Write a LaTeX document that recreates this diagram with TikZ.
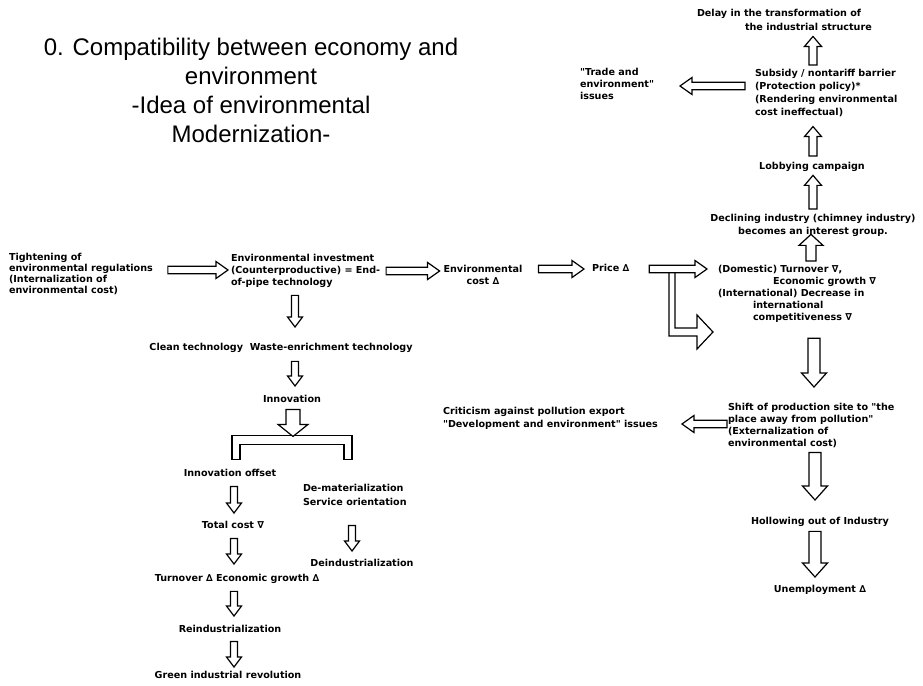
\documentclass[tikz,border=0pt]{standalone}
\usepackage{fontspec}
\setmainfont{DejaVu Sans}[Ligatures=TeXOff]
\newfontfamily\titlefont{Liberation Sans}
\usetikzlibrary{calc}

\tikzset{
  every node/.style={inner sep=0pt, outer sep=0pt},
  bodyfont/.style={font=\fontsize{9.6bp}{12bp}\selectfont\bfseries},
  txt/.style={bodyfont, align=left, anchor=north west},
  ctxt/.style={bodyfont, align=center, anchor=north},
  % hollow block arrow drawn along a "to" path: shaft half width, head half width, head length
  blockarrow/.style n args={3}{draw=black, fill=white, line width=1.2bp, line join=miter,
    to path={let \p1=(\tikztostart), \p2=(\tikztotarget),
      \n1={atan2(\y2-\y1,\x2-\x1)} in
      ($(\p1)+(\n1+90:#1)$) -- ($(\p2)+(\n1+180:#3)+(\n1+90:#1)$)
      -- ($(\p2)+(\n1+180:#3)+(\n1+90:#2)$) -- (\p2)
      -- ($(\p2)+(\n1+180:#3)+(\n1-90:#2)$) -- ($(\p2)+(\n1+180:#3)+(\n1-90:#1)$)
      -- ($(\p1)+(\n1-90:#1)$) -- cycle}},
  harr/.style={blockarrow={3.8bp}{8.5bp}{12bp}},
  sarr/.style={blockarrow={3.5bp}{7.5bp}{10bp}},
  uarr/.style={blockarrow={4bp}{8.5bp}{10bp}},
  warr/.style={blockarrow={5bp}{12bp}{11bp}},
  darr/.style={blockarrow={6bp}{12.5bp}{14bp}},
  farr/.style={blockarrow={7bp}{15bp}{12bp}},
  outline/.style={draw=black, fill=white, line width=1.2bp, line join=miter},
}

\begin{document}
\begin{tikzpicture}[x=1bp, y=-1bp]
\useasboundingbox (0,0) rectangle (923,686);
\fill[white] (0,0) rectangle (923,686);

% heading
\node[font=\titlefont\fontsize{24bp}{29bp}\selectfont, align=center, anchor=north]
  (title) at (251,38) {0. Compatibility between economy and\\environment\\-Idea of environmental\\Modernization-};

% main chain
\node[txt, font=\fontsize{9.6bp}{11bp}\selectfont\bfseries] (T) at (9,253)
  {Tightening of\\environmental regulations\\(Internalization of\\environmental cost)};
\node[txt] (EI) at (231,254)
  {Environmental investment\\(Counterproductive) = End-\\of-pipe technology};
\node[ctxt] (EC) at (483,265) {Environmental\\cost ∆};
\node[txt] (Price) at (592,264) {Price ∆};
\node[txt] (DT) at (718,265)
  {(Domestic) Turnover ∇,\\\hspace*{55bp}Economic growth ∇\\(International) Decrease in\\\hspace*{35bp}international\\\hspace*{35bp}competitiveness ∇};

% upper right branch
\node[ctxt, font=\fontsize{9.6bp}{13bp}\selectfont\bfseries] (DI) at (813,214)
  {Declining industry (chimney industry)\\becomes an interest group.};
\node[ctxt] (LC) at (812,162) {Lobbying campaign};
\node[txt, font=\fontsize{9.6bp}{13bp}\selectfont\bfseries] (SB) at (755,69)
  {Subsidy / nontariff barrier\\(Protection policy)*\\(Rendering environmental\\cost ineffectual)};
\node[txt, font=\fontsize{9.6bp}{14bp}\selectfont\bfseries] (DL) at (697,9)
  {Delay in the transformation of\\\hspace*{48bp}the industrial structure};
\node[txt] (Trade) at (580,68) {"Trade and\\environment"\\issues};

% lower right branch
\node[txt] (SH) at (728,403)
  {Shift of production site to "the\\place away from pollution"\\(Externalization of\\environmental cost)};
\node[txt, font=\fontsize{9.6bp}{13bp}\selectfont\bfseries] (CR) at (443,407)
  {Criticism against pollution export\\"Development and environment" issues};
\node[ctxt] (HO) at (820,517) {Hollowing out of Industry};
\node[ctxt] (UN) at (820,585) {Unemployment ∆};

% left branch
\node[ctxt] (CT) at (281,343) {Clean technology\ \ Waste-enrichment technology};
\node[ctxt] (IN) at (292,395) {Innovation};
\node[ctxt] (IO) at (230,469) {Innovation offset};
\node[txt, font=\fontsize{9.6bp}{14bp}\selectfont\bfseries] (DM) at (303,484)
  {De-materialization\\Service orientation};
\node[ctxt] (TC) at (233,521) {Total cost ∇};
\node[ctxt] (TO) at (237,574) {Turnover ∆ Economic growth ∆};
\node[ctxt] (DE) at (362,559) {Deindustrialization};
\node[ctxt] (RE) at (230,625) {Reindustrialization};
\node[ctxt] (GR) at (228,671) {Green industrial revolution};

% horizontal chain arrows
\draw[harr] ($(T.east |- 0,270)+(15,0)$) to ($(EI.west |- 0,270)+(-3,0)$);
\draw[harr] ($(EI.east |- 0,271)+(6,0)$) to ($(EC.west |- 0,271)+(-4,0)$);
\draw[harr] ($(EC.east |- 0,269)+(16,0)$) to ($(Price.west |- 0,269)+(-8,0)$);

% bent arrow from the price step down and round to the turnover block
\coordinate (Lroot) at (672,272);
\draw[outline] ($(Lroot)+(-3,0)$) -- ++(0,64) -- ++(28,0) -- ++(0,13) -- ++(16,-17)
  -- ++(-16,-17) -- ++(0,13) -- ++(-22,0) -- ++(0,-56);
\draw[harr] ($(Price.east |- 0,269)+(20,0)$) to ($(DT.west |- 0,269)+(-11,0)$);

% upward arrows
\draw[warr] ($(811,0 |- DT.north)+(0,-4)$) to ($(811,0 |- DI.south)+(0,-2)$);
\draw[uarr] ($(813,0 |- DI.north)+(0,-5)$) to ($(813,0 |- LC.south)+(0,4)$);
\draw[uarr] ($(813,0 |- LC.north)+(0,-6)$) to ($(813,0 |- SB.south)+(0,10)$);
\draw[uarr] ($(813,0 |- SB.north)+(0,-4)$) to ($(813,0 |- DL.south)+(0,6)$);
\draw[harr] ($(SB.west |- 0,86)+(-10,0)$) to ($(Trade.east |- 0,86)+(26,0)$);

% downward arrows on the right
\draw[darr] ($(814,0 |- DT.south)+(0,16)$) to ($(814,0 |- SH.north)+(0,-16)$);
\draw[harr] ($(SH.west |- 0,424)+(-1,0)$) to ($(CR.east |- 0,424)+(24,0)$);
\draw[darr] ($(815,0 |- SH.south)+(0,5)$) to ($(815,0 |- HO.north)+(0,-17)$);
\draw[darr] ($(815,0 |- HO.south)+(0,5)$) to ($(815,0 |- UN.north)+(0,-8)$);

% downward arrows on the left
\draw[sarr] ($(295,0 |- EI.south)+(0,8)$) to ($(295,0 |- CT.north)+(0,-16)$);
\draw[sarr] ($(295,0 |- CT.south)+(0,9)$) to ($(295,0 |- IN.north)+(0,-9)$);

% split bar below innovation
\coordinate (fork) at ($(IN.south)+(0,33)$);
\draw[outline] ($(fork)+(-60,0)$) -- ($(fork)+(60,0)$) -- ($(fork)+(60,24)$) -- ($(fork)+(52,24)$)
  -- ($(fork)+(52,9)$) -- ($(fork)+(-52,9)$) -- ($(fork)+(-52,24)$) -- ($(fork)+(-60,24)$) -- cycle;
\draw[farr] ($(IN.south)+(1,7)$) to ($(fork)+(1,1)$);

\draw[sarr] ($(234,0 |- IO.south)+(0,10)$) to ($(234,0 |- TC.north)+(0,-8)$);
\draw[sarr] ($(234,0 |- TC.south)+(0,10)$) to ($(234,0 |- TO.north)+(0,-10)$);
\draw[sarr] ($(352,0 |- DM.south)+(0,20)$) to ($(352,0 |- DE.north)+(0,-8)$);
\draw[sarr] ($(234,0 |- TO.south)+(0,8)$) to ($(234,0 |- RE.north)+(0,-9)$);
\draw[sarr] ($(234,0 |- RE.south)+(0,9)$) to ($(234,0 |- GR.north)+(0,-4)$);
\end{tikzpicture}
\end{document}
